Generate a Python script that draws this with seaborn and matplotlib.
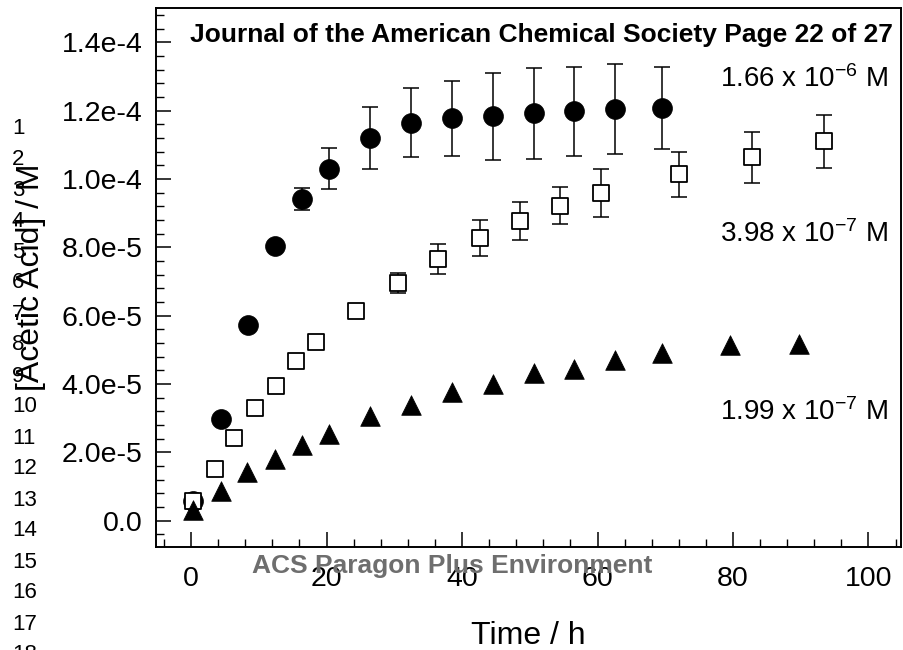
import numpy as np
import pandas as pd
import matplotlib
matplotlib.use("Agg")
import matplotlib.pyplot as plt
from matplotlib.ticker import MultipleLocator, FixedLocator, FixedFormatter
import seaborn as sns

# ---------------- data ----------------
t_high = [0.27, 4.46, 8.4, 12.4, 16.4, 20.4, 26.4, 32.5, 38.5, 44.5, 50.6, 56.6, 62.6, 69.5]
c_high = [5.7e-6, 2.99e-5, 5.74e-5, 8.04e-5, 9.42e-5, 1.03e-4, 1.12e-4, 1.165e-4,
          1.177e-4, 1.183e-4, 1.192e-4, 1.198e-4, 1.205e-4, 1.207e-4]
e_high = [0, 0, 0, 0, 3.2e-6, 6e-6, 9e-6, 1.0e-5, 1.1e-5, 1.27e-5, 1.33e-5, 1.3e-5, 1.32e-5, 1.2e-5]

t_mid = [0.3, 3.5, 6.4, 9.4, 12.5, 15.5, 18.5, 24.3, 30.5, 36.5, 42.6, 48.6, 54.5, 60.5, 72.0, 82.8, 93.5]
c_mid = [5.7e-6, 1.52e-5, 2.43e-5, 3.29e-5, 3.93e-5, 4.66e-5, 5.23e-5, 6.14e-5, 6.96e-5,
         7.65e-5, 8.28e-5, 8.76e-5, 9.22e-5, 9.6e-5, 1.013e-4, 1.063e-4, 1.11e-4]
e_mid = [0, 0, 0, 0, 0, 0, 0, 0, 3e-6, 4.4e-6, 5.3e-6, 5.6e-6, 5.4e-6, 7e-6, 6.6e-6, 7.5e-6, 7.8e-6]

t_low = [0.27, 4.35, 8.3, 12.4, 16.4, 20.4, 26.4, 32.5, 38.5, 44.5, 50.6, 56.6, 62.6, 69.5, 79.6, 89.7]
c_low = [3.2e-6, 8.6e-6, 1.42e-5, 1.81e-5, 2.21e-5, 2.55e-5, 3.05e-5, 3.38e-5, 3.76e-5,
         4.01e-5, 4.32e-5, 4.44e-5, 4.71e-5, 4.90e-5, 5.13e-5, 5.18e-5]

series_labels = ["1.66 x 10$^{-6}$ M", "3.98 x 10$^{-7}$ M", "1.99 x 10$^{-7}$ M"]
x_ticks = [0, 20, 40, 60, 80, 100]
y_ticks = [0.0, 2e-5, 4e-5, 6e-5, 8e-5, 1e-4, 1.2e-4, 1.4e-4]
y_tick_labels = ["0.0", "2.0e-5", "4.0e-5", "6.0e-5", "8.0e-5", "1.0e-4", "1.2e-4", "1.4e-4"]
x_label = "Time / h"
y_label = "[Acetic Acid] / M"
header = "Journal of the American Chemical Society Page 22 of 27"
footer = "ACS Paragon Plus Environment"
line_numbers = [str(i) for i in range(1, 19)]

# ---------------- style ----------------
sns.set_theme(style="ticks")
plt.rcParams["font.family"] = ["Liberation Sans", "DejaVu Sans"]
plt.rcParams["mathtext.default"] = "regular"

fig = plt.figure(figsize=(9.04, 6.5), dpi=100)
ax = fig.add_axes([0.1731, 0.1589, 0.8236, 0.8288])

df_high = pd.DataFrame({"t": t_high, "c": c_high, "e": e_high})
df_mid = pd.DataFrame({"t": t_mid, "c": c_mid, "e": e_mid})
df_low = pd.DataFrame({"t": t_low, "c": c_low})

for d in (df_high, df_mid):
    sub = d[d["e"] > 0]
    ax.errorbar(sub["t"], sub["c"], yerr=sub["e"], fmt="none", ecolor="black",
                elinewidth=1.1, capsize=6, capthick=1.1, zorder=1)

sns.scatterplot(data=df_high, x="t", y="c", marker="o", s=205, color="black",
                edgecolor="black", linewidth=0.5, ax=ax, zorder=2)
sns.scatterplot(data=df_mid, x="t", y="c", marker="s", s=140, color="white",
                edgecolor="black", linewidth=1.3, ax=ax, zorder=3)
sns.scatterplot(data=df_low, x="t", y="c", marker="^", s=200, color="black",
                edgecolor="black", linewidth=0.5, ax=ax, zorder=4)

ax.set_xlim(-5.1, 104.8)
ax.set_ylim(-7.6e-6, 1.5e-4)
ax.xaxis.set_major_locator(FixedLocator(x_ticks))
ax.xaxis.set_minor_locator(MultipleLocator(4))
ax.yaxis.set_major_locator(FixedLocator(y_ticks))
ax.yaxis.set_major_formatter(FixedFormatter(y_tick_labels))
ax.yaxis.set_minor_locator(MultipleLocator(4e-6))

for sp in ax.spines.values():
    sp.set_visible(True)
    sp.set_color("black")
    sp.set_linewidth(1.4)

ax.tick_params(axis="both", which="both", direction="in", top=False, right=False, color="black")
ax.tick_params(axis="both", which="major", length=11, width=1.1, labelsize=20.5)
ax.tick_params(axis="both", which="minor", length=6, width=1.0)
ax.tick_params(axis="x", which="major", pad=14)
ax.tick_params(axis="y", which="major", pad=10)
for lab in ax.get_xticklabels() + ax.get_yticklabels():
    lab.set_color("black")

ax.set_xlabel(x_label, fontsize=23, color="black")
ax.xaxis.set_label_coords(0.5, -0.165)
ax.xaxis.label.set_va("center")
ax.set_ylabel(y_label, fontsize=23, color="black")
ax.yaxis.set_label_coords(-0.168, 0.5)
ax.yaxis.label.set_va("center")

# concentration annotations
ann_y = [87, 242, 420]
for lab, yp in zip(series_labels, ann_y):
    fig.text(888 / 904, 1 - yp / 650, lab, ha="right", va="baseline", fontsize=20, color="black")

# page header / footer overlays
fig.text(893 / 904, 1 - 42 / 650, header, ha="right", va="baseline", fontsize=19,
         fontweight="bold", color="black")
fig.text(252 / 904, 1 - 573 / 650, footer, ha="left", va="baseline", fontsize=19,
         fontweight="bold", color="#6e6e6e")

for i, num in enumerate(line_numbers):
    fig.text(12 / 904, 1 - (128 + 31 * i) / 650, num, ha="left", va="center",
             fontsize=16, color="black")

fig.savefig("out.png", dpi=100, facecolor="white")
